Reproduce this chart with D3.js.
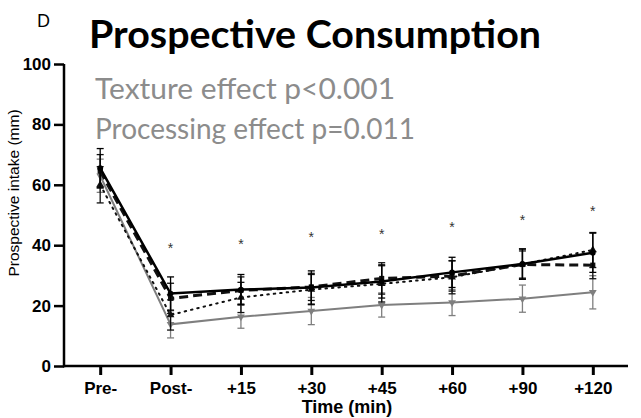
<!DOCTYPE html>
<html>
<head>
<meta charset="utf-8">
<title>Prospective Consumption</title>
<script src="https://d3js.org/d3.v7.min.js"></script>
<style>
  body { margin: 0; background: #fff; }
  text { font-family: "Liberation Sans", Arial, sans-serif; }
  .title, .note, .panel { font-family: Lato, "Open Sans", sans-serif; }
</style>
</head>
<body>
<div id="chart"></div>
<script>
// time points along the x axis
const timePoints = ["Pre-", "Post-", "+15", "+30", "+45", "+60", "+90", "+120"];

// mean prospective intake (mm) for the four conditions
const solidMeans  = [65.5, 24.0, 25.3, 26.0, 28.0, 31.0, 33.8, 37.5];
const dashedMeans = [64.5, 22.4, 25.0, 26.2, 29.0, 29.8, 33.6, 33.4];
const dottedMeans = [60.0, 16.9, 22.7, 25.3, 27.2, 29.4, 33.7, 38.4];
const greyMeans   = [63.0, 13.8, 16.3, 18.2, 20.2, 21.0, 22.3, 24.4];

// error (SEM) for each
const solidErr  = [6.5, 5.5, 5.0, 5.5, 5.5, 5.0, 5.0, 6.5];
const dashedErr = [5.5, 5.0, 4.5, 4.5, 5.2, 5.0, 4.5, 4.5];
const dottedErr = [6.0, 5.0, 5.0, 5.0, 6.0, 5.5, 5.0, 5.8];
const greyErr   = [5.5, 4.5, 3.8, 4.5, 4.0, 4.3, 4.5, 5.5];

// asterisks marking significance
const starTimes  = ["Post-", "+15", "+30", "+45", "+60", "+90", "+120"];
const starLevels = [39.5, 40.8, 43.1, 44.1, 46.4, 48.7, 51.7];

const yTicks = [0, 20, 40, 60, 80, 100];

const width = 641, height = 418;
const svg = d3.select("#chart").append("svg")
    .attr("width", width)
    .attr("height", height);

const x = d3.scalePoint().domain(timePoints).range([65, 628]).padding(0.5);
const y = d3.scaleLinear().domain([0, 100]).range([366, 64]);

// series definitions
const series = [
    { means: greyMeans,   err: greyErr,   color: "#7f7f7f", width: 2,   dash: null,    symbol: d3.symbolTriangle, rot: 180 },
    { means: dottedMeans, err: dottedErr, color: "#111",    width: 2,   dash: "1.5,5", symbol: d3.symbolTriangle, rot: 0 },
    { means: dashedMeans, err: dashedErr, color: "#111",    width: 3,   dash: "9,5",   symbol: d3.symbolSquare,   rot: 0 },
    { means: solidMeans,  err: solidErr,  color: "#000",    width: 2.5, dash: null,    symbol: d3.symbolCircle,   rot: 0 }
];

const line = d3.line()
    .x((d, i) => x(timePoints[i]))
    .y(d => y(d));

series.forEach(s => {
    const g = svg.append("g");
    // error bars
    const bars = g.selectAll(".err")
        .data(s.means)
        .join("g");
    bars.append("line")
        .attr("x1", (d, i) => x(timePoints[i]))
        .attr("x2", (d, i) => x(timePoints[i]))
        .attr("y1", (d, i) => y(d - s.err[i]))
        .attr("y2", (d, i) => y(d + s.err[i]))
        .attr("stroke", s.color).attr("stroke-width", 1.3);
    [-1, 1].forEach(sign => {
        bars.append("line")
            .attr("x1", (d, i) => x(timePoints[i]) - 3.5)
            .attr("x2", (d, i) => x(timePoints[i]) + 3.5)
            .attr("y1", (d, i) => y(d + sign * s.err[i]))
            .attr("y2", (d, i) => y(d + sign * s.err[i]))
            .attr("stroke", s.color).attr("stroke-width", 1.3);
    });
    // line
    g.append("path")
        .datum(s.means)
        .attr("d", line)
        .attr("fill", "none")
        .attr("stroke", s.color)
        .attr("stroke-width", s.width)
        .attr("stroke-dasharray", s.dash)
        .attr("stroke-linecap", s.dash === "1.5,5" ? "round" : "butt");
    // markers
    g.selectAll(".mark")
        .data(s.means)
        .join("path")
        .attr("d", d3.symbol().type(s.symbol).size(26))
        .attr("transform", (d, i) => `translate(${x(timePoints[i])},${y(d)}) rotate(${s.rot})`)
        .attr("fill", s.color);
});

// stars
svg.selectAll(".star")
    .data(starTimes)
    .join("text")
    .attr("x", d => x(d))
    .attr("y", (d, i) => y(starLevels[i]) + 6)
    .attr("text-anchor", "middle")
    .attr("font-size", 14)
    .attr("fill", "#333")
    .text("*");

// y axis
const yAxis = svg.append("g")
    .attr("transform", "translate(64,0)")
    .call(d3.axisLeft(y).tickValues(yTicks).tickSize(10).tickPadding(3));
yAxis.select(".domain").attr("stroke", "#000").attr("stroke-width", 2.5)
    .attr("d", `M0,${y(0) + 1.2}V${y(100)}`);
yAxis.selectAll(".tick line").attr("stroke", "#000").attr("stroke-width", 2.5);
yAxis.selectAll(".tick text").attr("font-size", 17).attr("font-weight", "bold")
    .attr("fill", "#000").attr("font-family", "Liberation Sans, Arial, sans-serif");

// x axis
const xAxis = svg.append("g")
    .attr("transform", `translate(0,${y(0)})`)
    .call(d3.axisBottom(x).tickSize(9).tickPadding(7));
xAxis.select(".domain").attr("stroke", "#000").attr("stroke-width", 2.5)
    .attr("d", "M63,0H628");
xAxis.selectAll(".tick line").attr("stroke", "#000").attr("stroke-width", 3);
xAxis.selectAll(".tick text").attr("font-size", 17).attr("font-weight", "bold")
    .attr("fill", "#000").attr("font-family", "Liberation Sans, Arial, sans-serif");

// axis titles
svg.append("text")
    .attr("x", 347).attr("y", 413)
    .attr("text-anchor", "middle")
    .attr("font-size", 18).attr("font-weight", "bold")
    .text("Time (min)");

svg.append("text")
    .attr("transform", "translate(19,193) rotate(-90)")
    .attr("text-anchor", "middle")
    .attr("font-size", 15.5)
    .text("Prospective intake (mm)");

// title and panel letter
svg.append("text").attr("class", "panel")
    .attr("x", 37).attr("y", 27)
    .attr("font-size", 17)
    .text("D");

svg.append("text").attr("class", "title")
    .attr("x", 89).attr("y", 48)
    .attr("font-size", 39).attr("font-weight", "bold")
    .attr("textLength", 452).attr("lengthAdjust", "spacingAndGlyphs")
    .text("Prospective Consumption");

// effect notes
svg.append("text").attr("class", "note")
    .attr("x", 95).attr("y", 99)
    .attr("font-size", 28).attr("fill", "#8c8c8c")
    .attr("textLength", 300).attr("lengthAdjust", "spacingAndGlyphs")
    .text("Texture effect p<0.001");

svg.append("text").attr("class", "note")
    .attr("x", 95).attr("y", 139)
    .attr("font-size", 28).attr("fill", "#8c8c8c")
    .attr("textLength", 320).attr("lengthAdjust", "spacingAndGlyphs")
    .text("Processing effect p=0.011");
</script>
</body>
</html>
